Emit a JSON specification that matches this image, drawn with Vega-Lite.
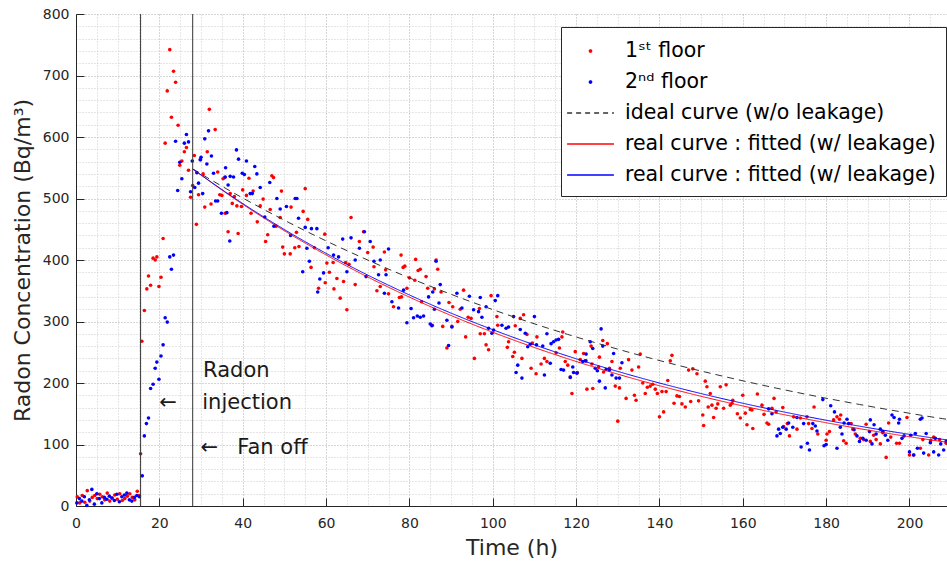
{
  "$schema": "https://vega.github.io/schema/vega-lite/v6.json",
  "width": 871,
  "height": 492,
  "autosize": {"type": "none"},
  "padding": {"left": 76, "top": 14, "right": 0, "bottom": 59},
  "background": "white",
  "config": {
    "font": "DejaVu Sans",
    "view": {"stroke": null},
    "axis": {
      "gridDash": [1, 2],
      "gridWidth": 1,
      "tickSize": -8,
      "tickColor": "#262626",
      "tickWidth": 1,
      "domainColor": "#262626",
      "domainWidth": 1,
      "labelFont": "DejaVu Sans",
      "labelFontSize": 14,
      "labelColor": "#262626",
      "titleFont": "DejaVu Sans",
      "titleFontSize": 21,
      "titleFontWeight": "normal",
      "titleColor": "#262626",
      "labelFlush": false,
      "labelOverlap": false
    },
    "legend": {
      "orient": "none",
      "legendX": 485,
      "legendY": 13,
      "fillColor": "white",
      "strokeColor": "#262626",
      "padding": 10,
      "symbolSize": 676,
      "symbolOffset": 5.5,
      "labelOffset": 20.5,
      "rowPadding": 6,
      "labelFont": "DejaVu Sans",
      "labelFontSize": 20.5,
      "labelColor": "#000000",
      "labelLimit": 500
    }
  },
  "datasets": {
    "red": [
      {"t":0.3,"v":15},{"t":0.9,"v":5},{"t":1.5,"v":17},{"t":2.1,"v":6},{"t":2.7,"v":25},{"t":3.3,"v":8},{"t":3.9,"v":14},{"t":4.5,"v":17},{"t":5.1,"v":12},{"t":5.7,"v":19},{"t":6.3,"v":15},{"t":6.9,"v":10},{"t":7.5,"v":21},{"t":8.1,"v":8},{"t":8.7,"v":13},{"t":9.3,"v":18},{"t":9.9,"v":11},{"t":10.5,"v":20},{"t":11.1,"v":9},{"t":11.7,"v":12},{"t":12.3,"v":16},{"t":12.9,"v":20},{"t":13.5,"v":14},{"t":14.1,"v":10},{"t":14.7,"v":24},{"t":15.2,"v":17},
      {"t":15.5,"v":85},{"t":15.8,"v":268},{"t":16.4,"v":318},{"t":17.0,"v":353},{"t":17.4,"v":374},{"t":17.9,"v":359},{"t":18.5,"v":403},{"t":19.0,"v":400},{"t":19.4,"v":405},{"t":19.9,"v":357},{"t":20.4,"v":372},{"t":20.9,"v":435},{"t":21.4,"v":590},{"t":21.9,"v":675},{"t":22.5,"v":742},{"t":22.9,"v":632},{"t":23.4,"v":707},{"t":23.9,"v":689},{"t":24.5,"v":619},{"t":24.9,"v":554},{"t":25.4,"v":561},{"t":26.0,"v":576},{"t":26.5,"v":583},{"t":27.0,"v":546},{"t":27.5,"v":502},{"t":28.0,"v":521},{"t":28.4,"v":570},{"t":28.9,"v":458},{"t":29.4,"v":506},{"t":29.9,"v":563},{"t":30.5,"v":540},{"t":30.9,"v":486},{"t":31.5,"v":576},{"t":32.0,"v":645},{"t":32.4,"v":491},{"t":33.4,"v":612},{"t":34.0,"v":543},{"t":34.5,"v":506},{"t":35.0,"v":505},{"t":35.3,"v":532},{"t":35.7,"v":534},{"t":35.8,"v":476},{"t":36.5,"v":446},{"t":37.0,"v":508},{"t":37.5,"v":492},{"t":38.0,"v":503},{"t":38.6,"v":488},{"t":38.9,"v":443},{"t":39.7,"v":487},
      {"t":40.0,"v":514},{"t":40.9,"v":505},{"t":41.5,"v":533},{"t":42.0,"v":476},{"t":42.5,"v":512},{"t":43.5,"v":462},{"t":44.2,"v":488},{"t":44.9,"v":499},{"t":45.5,"v":430},{"t":46.0,"v":441},{"t":46.6,"v":482},{"t":47.0,"v":537},{"t":47.4,"v":534},{"t":48.0,"v":455},{"t":49.0,"v":469},{"t":49.3,"v":512},{"t":49.6,"v":421},{"t":50.0,"v":410},{"t":51.4,"v":410},{"t":51.6,"v":486},{"t":52.5,"v":420},{"t":52.9,"v":445},{"t":53.5,"v":422},{"t":54.5,"v":479},{"t":55.0,"v":516},{"t":55.6,"v":466},{"t":56.4,"v":388},{"t":57.2,"v":420},{"t":58.2,"v":354},{"t":59.7,"v":442},{"t":59.8,"v":363},{"t":60.2,"v":395},{"t":60.8,"v":380},{"t":61.7,"v":396},{"t":61.9,"v":353},{"t":62.6,"v":370},{"t":63.4,"v":338},{"t":64.2,"v":365},{"t":64.7,"v":396},{"t":65.0,"v":319},{"t":65.5,"v":393},{"t":66.0,"v":469},{"t":67.0,"v":360},{"t":68.0,"v":430},{"t":69.0,"v":446},{"t":70.0,"v":412},{"t":71.3,"v":421},{"t":71.5,"v":389},{"t":72.2,"v":350},{"t":73.0,"v":357},{"t":74.0,"v":413},{"t":74.3,"v":384},{"t":75.0,"v":345},
      {"t":76.2,"v":324},{"t":77.6,"v":339},{"t":78.0,"v":408},{"t":78.1,"v":340},{"t":78.5,"v":388},{"t":78.9,"v":390},{"t":79.4,"v":354},{"t":80.0,"v":371},{"t":81.3,"v":367},{"t":81.5,"v":401},{"t":82.1,"v":383},{"t":82.6,"v":385},{"t":82.9,"v":332},{"t":84.0,"v":373},{"t":84.4,"v":354},{"t":85.5,"v":294},{"t":86.0,"v":353},{"t":86.4,"v":400},{"t":86.8,"v":385},{"t":87.6,"v":348},{"t":88.0,"v":292},{"t":89.0,"v":257},{"t":89.5,"v":331},{"t":90.2,"v":292},{"t":90.4,"v":324},{"t":91.6,"v":300},{"t":92.2,"v":320},{"t":93.0,"v":351},{"t":93.5,"v":275},{"t":94.1,"v":307},{"t":94.8,"v":305},{"t":95.6,"v":240},{"t":96.8,"v":321},{"t":97.0,"v":280},{"t":98.0,"v":280},{"t":98.4,"v":262},{"t":99.0,"v":254},{"t":99.6,"v":342},{"t":101.0,"v":308},{"t":101.2,"v":294},{"t":103.5,"v":258},{"t":103.8,"v":267},{"t":104.8,"v":243},{"t":105.2,"v":250},{"t":105.4,"v":293},{"t":106.6,"v":305},{"t":107.0,"v":240},{"t":107.4,"v":311},{"t":108.2,"v":279},{"t":109.2,"v":224},{"t":109.5,"v":265},{"t":110.4,"v":215},{"t":110.6,"v":275},{"t":111.6,"v":231},{"t":112.4,"v":240},{"t":113.0,"v":235},{"t":115.2,"v":249},{"t":116.0,"v":257},{"t":116.6,"v":275},{"t":116.8,"v":283},{"t":117.4,"v":235},{"t":118.0,"v":229},{"t":118.6,"v":210},{"t":119.0,"v":183},{"t":119.8,"v":251},{"t":120.3,"v":217},
      {"t":121.0,"v":238},{"t":121.8,"v":248},{"t":122.4,"v":236},{"t":122.6,"v":190},{"t":123.6,"v":260},{"t":123.8,"v":231},{"t":124.0,"v":191},{"t":125.4,"v":226},{"t":125.6,"v":242},{"t":126.4,"v":269},{"t":126.6,"v":218},{"t":127.5,"v":264},{"t":128.0,"v":224},{"t":128.6,"v":235},{"t":129.4,"v":195},{"t":130.0,"v":138},{"t":130.4,"v":192},{"t":130.6,"v":224},{"t":132.0,"v":175},{"t":132.6,"v":238},{"t":133.4,"v":221},{"t":134.0,"v":180},{"t":134.4,"v":172},{"t":135.0,"v":226},{"t":135.4,"v":247},{"t":136.0,"v":200},{"t":136.6,"v":183},{"t":137.1,"v":193},{"t":137.8,"v":195},{"t":138.4,"v":198},{"t":139.0,"v":190},{"t":139.5,"v":183},{"t":140.0,"v":145},{"t":140.6,"v":186},{"t":141.0,"v":153},{"t":141.6,"v":186},{"t":142.0,"v":204},{"t":142.6,"v":236},{"t":143.0,"v":245},{"t":143.5,"v":167},{"t":144.2,"v":179},{"t":144.8,"v":178},{"t":145.4,"v":166},{"t":146.2,"v":161},{"t":147.0,"v":221},{"t":147.5,"v":170},{"t":148.0,"v":223},{"t":149.0,"v":215},{"t":149.4,"v":171},{"t":150.4,"v":148},{"t":150.6,"v":131},{"t":151.0,"v":203},{"t":151.4,"v":194},{"t":151.7,"v":161},{"t":152.2,"v":183},{"t":152.6,"v":164},{"t":153.0,"v":144},{"t":153.6,"v":159},{"t":154.0,"v":166},{"t":154.6,"v":194},{"t":155.4,"v":159},{"t":156.0,"v":197},{"t":157.0,"v":164},{"t":157.4,"v":167},{"t":157.6,"v":172},{"t":158.7,"v":150},{"t":159.4,"v":143},{"t":160.0,"v":180},{"t":160.6,"v":151},
      {"t":161.0,"v":132},{"t":161.8,"v":157},{"t":162.2,"v":156},{"t":162.4,"v":126},{"t":163.5,"v":182},{"t":164.6,"v":164},{"t":165.1,"v":149},{"t":165.8,"v":135},{"t":166.2,"v":133},{"t":167.0,"v":159},{"t":167.5,"v":175},{"t":168.0,"v":153},{"t":169.6,"v":160},{"t":169.8,"v":129},{"t":170.7,"v":134},{"t":171.2,"v":114},{"t":172.2,"v":145},{"t":173.0,"v":125},{"t":173.8,"v":143},{"t":175.4,"v":145},{"t":175.8,"v":134},{"t":176.6,"v":126},{"t":177.1,"v":161},{"t":178.0,"v":117},{"t":180.0,"v":107},{"t":180.2,"v":117},{"t":180.8,"v":121},{"t":181.8,"v":140},{"t":182.6,"v":145},{"t":183.2,"v":141},{"t":183.5,"v":148},{"t":184.2,"v":106},{"t":184.8,"v":102},{"t":186.0,"v":134},{"t":186.4,"v":125},{"t":187.0,"v":117},{"t":188.2,"v":110},{"t":189.0,"v":108},{"t":189.6,"v":133},{"t":190.6,"v":105},{"t":191.4,"v":115},{"t":192.0,"v":108},{"t":193.0,"v":101},{"t":193.6,"v":119},{"t":194.4,"v":79},{"t":195.0,"v":135},{"t":195.5,"v":112},{"t":196.9,"v":102},{"t":197.6,"v":102},{"t":199.4,"v":144},{"t":200.0,"v":83},{"t":201.0,"v":83},{"t":202.6,"v":94},{"t":203.2,"v":108},{"t":204.6,"v":83},{"t":205.1,"v":107},{"t":205.8,"v":112},{"t":207.2,"v":108},{"t":208.8,"v":102}
    ],
    "blue": [
      {"t":0.2,"v":5},{"t":0.8,"v":12},{"t":1.4,"v":8},{"t":2.0,"v":15},{"t":2.6,"v":1},{"t":3.2,"v":10},{"t":3.8,"v":27},{"t":4.4,"v":3},{"t":5.0,"v":20},{"t":5.6,"v":12},{"t":6.2,"v":5},{"t":6.8,"v":14},{"t":7.4,"v":11},{"t":8.0,"v":16},{"t":8.6,"v":13},{"t":9.2,"v":9},{"t":9.8,"v":19},{"t":10.4,"v":7},{"t":11.0,"v":15},{"t":11.6,"v":18},{"t":12.2,"v":21},{"t":12.8,"v":10},{"t":13.4,"v":8},{"t":14.0,"v":14},{"t":14.6,"v":17},{"t":15.2,"v":15},
      {"t":15.9,"v":49},{"t":16.4,"v":114},{"t":16.9,"v":134},{"t":17.4,"v":143},{"t":17.9,"v":191},{"t":18.5,"v":198},{"t":19.0,"v":224},{"t":19.4,"v":234},{"t":19.9,"v":206},{"t":20.4,"v":244},{"t":20.9,"v":262},{"t":21.4,"v":306},{"t":21.9,"v":299},{"t":22.5,"v":405},{"t":22.9,"v":385},{"t":23.4,"v":408},{"t":23.9,"v":593},{"t":24.4,"v":513},{"t":24.9,"v":559},{"t":25.4,"v":532},{"t":26.0,"v":590},{"t":26.5,"v":604},{"t":27.0,"v":592},{"t":27.5,"v":511},{"t":27.9,"v":561},{"t":28.5,"v":518},{"t":29.0,"v":542},{"t":29.4,"v":525},{"t":29.8,"v":563},{"t":30.0,"v":567},{"t":30.4,"v":508},{"t":30.9,"v":597},{"t":31.4,"v":556},{"t":31.8,"v":610},{"t":32.5,"v":569},{"t":33.0,"v":541},{"t":33.5,"v":496},{"t":34.0,"v":496},{"t":34.9,"v":476},{"t":35.8,"v":535},{"t":35.9,"v":550},{"t":36.2,"v":477},{"t":36.5,"v":522},{"t":36.9,"v":431},{"t":37.0,"v":536},{"t":37.8,"v":535},{"t":38.5,"v":579},{"t":39.0,"v":564},{"t":39.9,"v":541},
      {"t":40.4,"v":539},{"t":40.9,"v":561},{"t":41.8,"v":508},{"t":42.3,"v":508},{"t":42.9,"v":552},{"t":43.4,"v":540},{"t":44.2,"v":518},{"t":45.3,"v":470},{"t":46.5,"v":526},{"t":47.5,"v":455},{"t":48.2,"v":500},{"t":49.0,"v":483},{"t":50.5,"v":487},{"t":51.5,"v":440},{"t":52.6,"v":500},{"t":53.0,"v":500},{"t":53.4,"v":468},{"t":54.4,"v":381},{"t":55.0,"v":453},{"t":55.4,"v":419},{"t":56.0,"v":398},{"t":56.5,"v":451},{"t":57.8,"v":451},{"t":58.0,"v":348},{"t":58.5,"v":369},{"t":59.4,"v":379},{"t":60.5,"v":420},{"t":61.8,"v":408},{"t":63.0,"v":405},{"t":64.0,"v":434},{"t":65.0,"v":381},{"t":66.0,"v":436},{"t":67.0,"v":400},{"t":68.0,"v":419},{"t":69.2,"v":446},{"t":69.6,"v":373},{"t":70.6,"v":430},{"t":71.5,"v":398},{"t":72.6,"v":376},
      {"t":73.0,"v":400},{"t":74.0,"v":346},{"t":74.4,"v":376},{"t":75.0,"v":418},{"t":75.8,"v":332},{"t":77.4,"v":322},{"t":78.6,"v":351},{"t":79.4,"v":298},{"t":80.4,"v":321},{"t":81.0,"v":306},{"t":81.9,"v":309},{"t":82.6,"v":307},{"t":83.4,"v":309},{"t":84.6,"v":340},{"t":85.0,"v":296},{"t":85.4,"v":293},{"t":85.6,"v":348},{"t":86.0,"v":320},{"t":86.4,"v":398},{"t":87.1,"v":330},{"t":87.4,"v":360},{"t":89.0,"v":302},{"t":89.4,"v":261},{"t":90.2,"v":291},{"t":91.4,"v":346},{"t":92.6,"v":322},{"t":94.4,"v":341},{"t":95.4,"v":319},{"t":96.6,"v":316},{"t":97.0,"v":339},{"t":97.4,"v":307},{"t":98.4,"v":324},{"t":99.0,"v":289},{"t":99.8,"v":281},{"t":100.2,"v":286},{"t":100.6,"v":334},{"t":101.2,"v":342},{"t":102.2,"v":294},{"t":103.2,"v":289},{"t":103.8,"v":291},{"t":105.0,"v":308},{"t":105.6,"v":217},{"t":106.0,"v":229},{"t":106.6,"v":287},{"t":107.0,"v":208},{"t":107.8,"v":281},{"t":108.4,"v":259},{"t":109.0,"v":263},{"t":110.0,"v":308},{"t":110.5,"v":262},{"t":112.0,"v":260},{"t":112.4,"v":213},{"t":113.0,"v":280},{"t":113.8,"v":232},{"t":114.0,"v":264},{"t":114.6,"v":267},{"t":115.2,"v":270},{"t":115.8,"v":271},{"t":116.4,"v":222},{"t":117.0,"v":221},{"t":118.6,"v":209},{"t":119.2,"v":226},{"t":119.4,"v":217},{"t":120.2,"v":216},
      {"t":121.6,"v":235},{"t":122.2,"v":236},{"t":122.4,"v":247},{"t":123.4,"v":267},{"t":124.0,"v":256},{"t":124.6,"v":224},{"t":125.1,"v":220},{"t":125.6,"v":203},{"t":126.0,"v":288},{"t":126.4,"v":260},{"t":127.0,"v":192},{"t":127.2,"v":222},{"t":128.0,"v":221},{"t":128.6,"v":213},{"t":129.0,"v":248},{"t":129.6,"v":208},{"t":130.4,"v":208},{"t":131.0,"v":233},
      {"t":166.2,"v":158},{"t":167.0,"v":150},{"t":168.2,"v":114},{"t":168.6,"v":125},{"t":169.0,"v":118},{"t":169.6,"v":128},{"t":170.4,"v":125},{"t":171.0,"v":135},{"t":172.0,"v":128},{"t":173.0,"v":144},{"t":174.0,"v":96},{"t":174.6,"v":134},{"t":175.5,"v":102},{"t":176.0,"v":91},{"t":176.8,"v":134},{"t":177.4,"v":130},{"t":177.8,"v":122},{"t":179.2,"v":173},{"t":179.5,"v":98},{"t":180.0,"v":100},{"t":181.1,"v":163},{"t":182.0,"v":153},{"t":182.6,"v":94},{"t":183.4,"v":128},{"t":183.8,"v":117},{"t":184.3,"v":135},{"t":185.0,"v":141},{"t":185.4,"v":134},{"t":186.7,"v":124},{"t":187.4,"v":114},{"t":188.0,"v":105},{"t":188.8,"v":110},{"t":189.6,"v":107},{"t":190.4,"v":121},{"t":190.6,"v":140},{"t":191.0,"v":101},{"t":191.5,"v":132},{"t":192.0,"v":117},{"t":193.0,"v":125},{"t":193.6,"v":121},{"t":194.2,"v":115},{"t":194.8,"v":107},{"t":195.8,"v":148},{"t":196.3,"v":144},{"t":197.4,"v":135},{"t":197.6,"v":141},{"t":198.2,"v":110},{"t":198.7,"v":114},{"t":200.0,"v":88},{"t":200.3,"v":115},{"t":201.0,"v":83},{"t":201.4,"v":118},{"t":201.9,"v":94},{"t":202.6,"v":141},{"t":203.0,"v":143},{"t":203.4,"v":86},{"t":204.0,"v":118},{"t":205.0,"v":103},{"t":205.8,"v":88},{"t":206.2,"v":110},{"t":207.0,"v":83},{"t":207.5,"v":101},{"t":208.2,"v":91},{"t":208.8,"v":105}
    ],
    "fit": [
      {"t":28,"ideal":548,"rfit":548,"bfit":548},
      {"t":38,"ideal":508.4,"rfit":499.8,"bfit":500.8},
      {"t":48,"ideal":471.7,"rfit":455.9,"bfit":457.7},
      {"t":58,"ideal":437.6,"rfit":415.8,"bfit":418.3},
      {"t":68,"ideal":406.0,"rfit":379.3,"bfit":382.3},
      {"t":78,"ideal":376.6,"rfit":346.0,"bfit":349.4},
      {"t":88,"ideal":349.4,"rfit":315.5,"bfit":319.3},
      {"t":98,"ideal":324.2,"rfit":287.8,"bfit":291.9},
      {"t":108,"ideal":300.7,"rfit":262.5,"bfit":266.8},
      {"t":118,"ideal":279.0,"rfit":239.4,"bfit":243.8},
      {"t":128,"ideal":258.9,"rfit":218.4,"bfit":222.8},
      {"t":138,"ideal":240.1,"rfit":199.2,"bfit":203.6},
      {"t":148,"ideal":222.8,"rfit":181.7,"bfit":186.1},
      {"t":158,"ideal":206.7,"rfit":165.7,"bfit":170.1},
      {"t":168,"ideal":191.7,"rfit":151.1,"bfit":155.5},
      {"t":178,"ideal":177.9,"rfit":137.9,"bfit":142.0},
      {"t":188,"ideal":165.1,"rfit":125.8,"bfit":129.8},
      {"t":198,"ideal":153.1,"rfit":114.7,"bfit":118.6},
      {"t":208,"ideal":142.0,"rfit":104.6,"bfit":108.4},
      {"t":209,"ideal":141.0,"rfit":103.6,"bfit":107.5}
    ]
  },
  "resolve": {"axis": {"x": "independent", "y": "independent"}},
  "layer": [
    {
      "data": {"values": [{}]},
      "mark": {"type": "point", "opacity": 0},
      "encoding": {
        "x": {
          "datum": 0, "type": "quantitative",
          "scale": {"domain": [0, 209], "nice": false, "zero": false},
          "axis": {"orient": "bottom", "values": [5,10,15,25,30,35,45,50,55,65,70,75,85,90,95,105,110,115,125,130,135,145,150,155,165,170,175,185,190,195,205], "labels": false, "ticks": false, "domain": false, "title": null, "grid": true, "gridColor": "#cdcdcd", "gridDash": [1, 2]}
        },
        "y": {
          "datum": 0, "type": "quantitative",
          "scale": {"domain": [0, 800], "nice": false},
          "axis": {"orient": "left", "values": [20,40,60,80,120,140,160,180,220,240,260,280,320,340,360,380,420,440,460,480,520,540,560,580,620,640,660,680,720,740,760,780], "labels": false, "ticks": false, "domain": false, "title": null, "grid": true, "gridColor": "#cdcdcd", "gridDash": [1, 2]}
        }
      }
    },
    {
      "layer": [
        {
          "data": {"name": "red"},
          "mark": {"type": "point", "filled": true, "size": 13, "opacity": 1, "strokeWidth": 0},
          "encoding": {
            "x": {
              "field": "t", "type": "quantitative",
              "axis": {
                "orient": "bottom",
                "title": "Time (h)",
                "titleFontSize": 22,
                "values": [0,20,40,60,80,100,120,140,160,180,200],
                "grid": true,
                "gridColor": "#adadad",
                "labelOverlap": false,
                "labelPadding": 18,
                "titlePadding": 7
              }
            },
            "y": {
              "field": "v", "type": "quantitative",
              "axis": {
                "orient": "left",
                "title": "Radon Concentration (Bq/m³)",
                "titleFontSize": 22,
                "values": [0,100,200,300,400,500,600,700,800],
                "grid": true,
                "gridColor": "#adadad",
                "labelOverlap": false,
                "labelPadding": 15,
                "titlePadding": 8
              }
            },
            "color": {
              "datum": "red",
              "title": null,
              "scale": {"domain": ["red", "blue", "ideal", "rfit", "bfit"], "range": ["#ff0000", "#0000ff", "#333333", "#ff0000", "#0000ff"]},
              "legend": {
                "title": null,
                "labelExpr": "datum.value == 'red' ? '1ˢᵗ floor' : datum.value == 'blue' ? '2ⁿᵈ floor' : datum.value == 'ideal' ? 'ideal curve (w/o leakage)' : 'real curve : fitted (w/ leakage)'",
                "encode": {
                  "symbols": {
                    "update": {
                      "shape": {"signal": "datum.value == 'red' || datum.value == 'blue' ? 'circle' : 'M-1.8,0H1.8'"},
                      "size": {"signal": "datum.value == 'red' || datum.value == 'blue' ? 6 : 676"},
                      "fill": {"signal": "datum.value == 'red' ? '#ff0000' : datum.value == 'blue' ? '#0000ff' : 'transparent'"},
                      "stroke": {"signal": "datum.value == 'red' || datum.value == 'blue' ? 'transparent' : datum.value == 'ideal' ? '#555555' : datum.value == 'bfit' ? '#2020ff' : '#ff0000'"},
                      "strokeDash": {"signal": "datum.value == 'ideal' ? [5, 4] : [1, 0]"},
                      "strokeWidth": {"value": 1.3},
                      "strokeOpacity": {"value": 1},
                      "opacity": {"value": 1}
                    }
                  }
                }
              }
            }
          }
        },
        {
          "data": {"name": "blue"},
          "mark": {"type": "point", "filled": true, "size": 13, "opacity": 1, "strokeWidth": 0},
          "encoding": {
            "x": {"field": "t", "type": "quantitative"},
            "y": {"field": "v", "type": "quantitative"},
            "color": {
              "datum": "blue",
              "title": null,
              "legend": {
                "title": null,
                "labelExpr": "datum.value == 'red' ? '1ˢᵗ floor' : datum.value == 'blue' ? '2ⁿᵈ floor' : datum.value == 'ideal' ? 'ideal curve (w/o leakage)' : 'real curve : fitted (w/ leakage)'",
                "encode": {
                  "symbols": {
                    "update": {
                      "shape": {"signal": "datum.value == 'red' || datum.value == 'blue' ? 'circle' : 'M-1.8,0H1.8'"},
                      "size": {"signal": "datum.value == 'red' || datum.value == 'blue' ? 6 : 676"},
                      "fill": {"signal": "datum.value == 'red' ? '#ff0000' : datum.value == 'blue' ? '#0000ff' : 'transparent'"},
                      "stroke": {"signal": "datum.value == 'red' || datum.value == 'blue' ? 'transparent' : datum.value == 'ideal' ? '#555555' : datum.value == 'bfit' ? '#2020ff' : '#ff0000'"},
                      "strokeDash": {"signal": "datum.value == 'ideal' ? [5, 4] : [1, 0]"},
                      "strokeWidth": {"value": 1.3},
                      "strokeOpacity": {"value": 1},
                      "opacity": {"value": 1}
                    }
                  }
                }
              }
            }
          }
        },
        {
          "data": {"name": "fit"},
          "transform": [{"fold": ["ideal", "rfit", "bfit"], "as": ["key", "value"]}],
          "mark": {"type": "line", "strokeWidth": 1, "interpolate": "monotone"},
          "encoding": {
            "x": {"field": "t", "type": "quantitative"},
            "y": {"field": "value", "type": "quantitative"},
            "color": {
              "field": "key", "type": "nominal",
              "title": null,
              "legend": {
                "title": null,
                "labelExpr": "datum.value == 'red' ? '1ˢᵗ floor' : datum.value == 'blue' ? '2ⁿᵈ floor' : datum.value == 'ideal' ? 'ideal curve (w/o leakage)' : 'real curve : fitted (w/ leakage)'",
                "encode": {
                  "symbols": {
                    "update": {
                      "shape": {"signal": "datum.value == 'red' || datum.value == 'blue' ? 'circle' : 'M-1.8,0H1.8'"},
                      "size": {"signal": "datum.value == 'red' || datum.value == 'blue' ? 6 : 676"},
                      "fill": {"signal": "datum.value == 'red' ? '#ff0000' : datum.value == 'blue' ? '#0000ff' : 'transparent'"},
                      "stroke": {"signal": "datum.value == 'red' || datum.value == 'blue' ? 'transparent' : datum.value == 'ideal' ? '#555555' : datum.value == 'bfit' ? '#2020ff' : '#ff0000'"},
                      "strokeDash": {"signal": "datum.value == 'ideal' ? [5, 4] : [1, 0]"},
                      "strokeWidth": {"value": 1.3},
                      "strokeOpacity": {"value": 1},
                      "opacity": {"value": 1}
                    }
                  }
                }
              }
            },
            "strokeDash": {
              "field": "key", "type": "nominal",
              "scale": {"domain": ["ideal", "rfit", "bfit"], "range": [[7, 5], [1, 0], [1, 0]]},
              "legend": null
            }
          }
        },
        {
          "data": {"values": [{}]},
          "mark": {"type": "rule", "color": "#333333", "strokeWidth": 1},
          "encoding": {"x": {"datum": 15.5}}
        },
        {
          "data": {"values": [{}]},
          "mark": {"type": "rule", "color": "#333333", "strokeWidth": 1},
          "encoding": {"x": {"datum": 28}}
        },
        {
          "data": {"values": [{}]},
          "mark": {"type": "text", "align": "left", "baseline": "alphabetic", "font": "DejaVu Sans", "fontSize": 21, "color": "#1a1a1a"},
          "encoding": {"x": {"datum": 30.5}, "y": {"datum": 210}, "text": {"value": "Radon"}}
        },
        {
          "data": {"values": [{}]},
          "mark": {"type": "text", "align": "left", "baseline": "alphabetic", "font": "DejaVu Sans", "fontSize": 21, "color": "#1a1a1a"},
          "encoding": {"x": {"datum": 30.3}, "y": {"datum": 158}, "text": {"value": "injection"}}
        },
        {
          "data": {"values": [{}]},
          "mark": {"type": "text", "align": "left", "baseline": "alphabetic", "font": "DejaVu Sans", "fontSize": 21, "color": "#1a1a1a"},
          "encoding": {"x": {"datum": 20.0}, "y": {"datum": 158}, "text": {"value": "←"}}
        },
        {
          "data": {"values": [{}]},
          "mark": {"type": "text", "align": "left", "baseline": "alphabetic", "font": "DejaVu Sans", "fontSize": 21, "color": "#1a1a1a"},
          "encoding": {"x": {"datum": 29.9}, "y": {"datum": 84}, "text": {"value": "←"}}
        },
        {
          "data": {"values": [{}]},
          "mark": {"type": "text", "align": "left", "baseline": "alphabetic", "font": "DejaVu Sans", "fontSize": 21, "color": "#1a1a1a"},
          "encoding": {"x": {"datum": 38.7}, "y": {"datum": 84}, "text": {"value": "Fan off"}}
        }
      ]
    }
  ]
}
